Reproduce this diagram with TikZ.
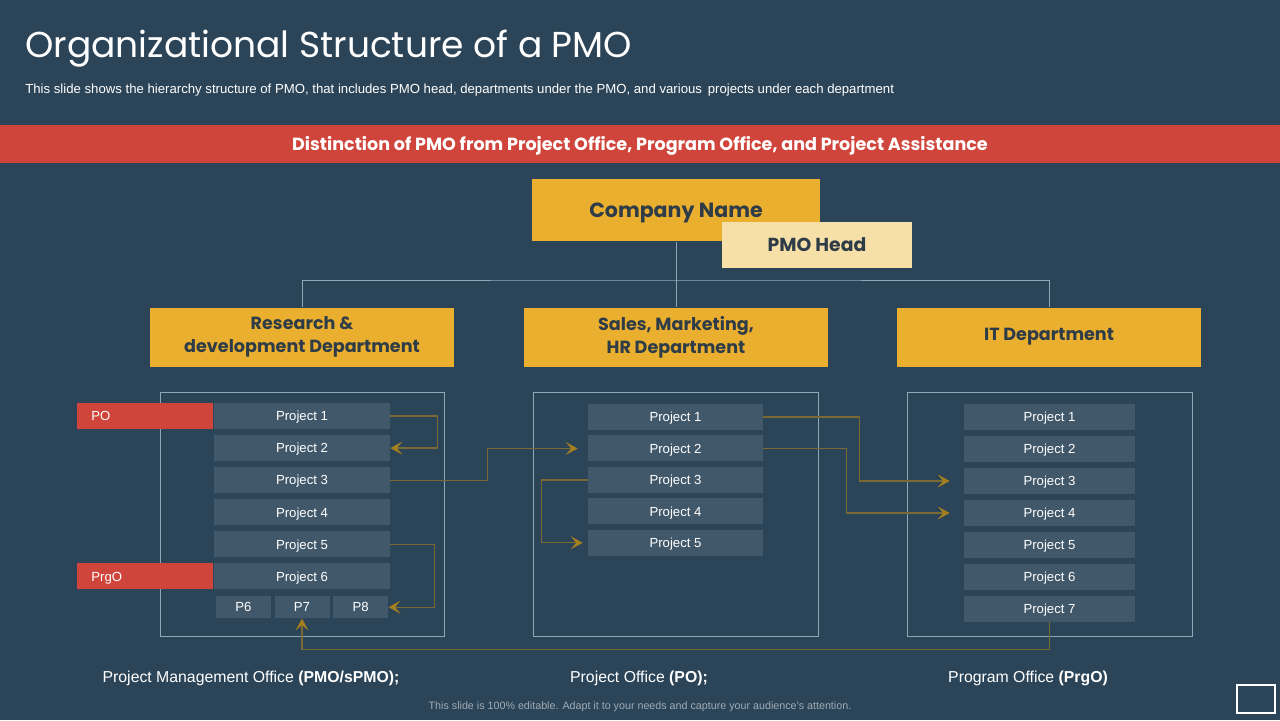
\documentclass[tikz,border=0pt]{standalone}
\usepackage{fontspec}
\setmainfont{Liberation Sans}
\newfontfamily\gothic{Poppins}
\usetikzlibrary{arrows.meta, positioning, calc}
\definecolor{slatebg}{RGB}{43,68,87}
\definecolor{bandred}{RGB}{208,69,59}
\definecolor{deptgold}{RGB}{235,175,47}
\definecolor{headcream}{RGB}{247,223,168}
\definecolor{projslate}{RGB}{65,88,106}
\definecolor{linegray}{RGB}{143,168,184}
\definecolor{flowolive}{RGB}{122,106,52}
\definecolor{tipgold}{RGB}{165,128,32}
\definecolor{inkdark}{RGB}{46,60,72}
\definecolor{footgray}{RGB}{160,172,182}

\begin{document}
\begin{tikzpicture}[x=0.02cm, y=-0.02cm,
    dept/.style={rectangle, fill=deptgold, minimum width=61mm, minimum height=11.8mm, inner sep=0, align=center, text=inkdark, font=\gothic\bfseries\fontsize{10}{13}\selectfont},
    company/.style={rectangle, fill=deptgold, minimum width=57.6mm, minimum height=12.6mm, inner sep=0, text height=8.4pt, text depth=0pt, text=inkdark, font=\gothic\bfseries\fontsize{11.7}{14}\selectfont},
    head/.style={rectangle, fill=headcream, minimum width=38mm, minimum height=9.2mm, inner sep=0, text height=7.6pt, text depth=0pt, text=inkdark, font=\gothic\bfseries\fontsize{10.7}{13}\selectfont},
    project/.style={rectangle, fill=projslate, minimum width=35.2mm, minimum height=5.2mm, inner sep=0, text height=5.4pt, text depth=0pt, text=white, font=\fontsize{7.5}{9}\selectfont},
    small/.style={project, minimum width=11mm, minimum height=4.4mm},
    office/.style={rectangle, fill=bandred, text width=21.6mm, inner xsep=2.8mm, inner ysep=0, minimum height=5.2mm, text height=5.4pt, text depth=0pt, align=left, text=white, font=\fontsize{7.5}{9}\selectfont},
    panel/.style={rectangle, draw=linegray, line width=0.55pt, minimum width=57mm, minimum height=48.8mm},
    tree/.style={draw=linegray, line width=0.55pt},
    flow/.style={-{Stealth[length=2.4mm, width=2.6mm, inset=1.1mm, color=tipgold]}, draw=flowolive, line width=0.75pt},
    caption/.style={text=white, font=\fontsize{9}{11}\selectfont}
]
\fill[slatebg] (0,0) rectangle (1280,720);
\useasboundingbox (0,0) rectangle (1280,720);

% header
\node[anchor=west, inner sep=0, text=white, font=\gothic\fontsize{20.5}{24}\selectfont] (title) at (25,49) {Organizational Structure of a PMO};
\node[anchor=west, inner sep=0, text=white, font=\fontsize{7.5}{9}\selectfont] (subtitle) at (25,90) {This slide shows the hierarchy structure of PMO, that includes PMO head, departments under the PMO, and various\, projects under each department};
\node[rectangle, fill=bandred, minimum width=256mm, minimum height=7.6mm, inner sep=0, text height=7pt, text depth=0pt, text=white, font=\gothic\bfseries\fontsize{10}{12}\selectfont] (band) at (640,144) {Distinction of PMO from Project Office, Program Office, and Project Assistance};

% hierarchy
\node[company] (company) at (676,210) {Company Name};
\node[head] (head) at (817,245) {PMO Head};
\node[dept] (rnd) at (302,337) {Research \&\\development Department};
\node[dept] (sales) at (676,337) {Sales, Marketing,\\HR Department};
\node[dept] (itdept) at (1049,337) {IT Department};
\coordinate (bus) at (676,280);
\draw[tree] (company.south) -- (sales.north);
\draw[tree] (rnd.north) |- (bus) -| (itdept.north);

% panels
\node[panel] (rndpanel) at (302.5,514) {};
\node[panel] (salespanel) at (676,514) {};
\node[panel] (itpanel) at (1049.5,514) {};

% research projects
\node[project] (rp1) at (302,416) {Project 1};
\foreach \i/\j in {2/1,3/2,4/3,5/4,6/5}
  \node[project, below=1.08mm of rp\j] (rp\i) {Project \i};
\node[small, below=1.2mm of rp6] (p7) {P7};
\node[small, left=0.6mm of p7] (p6) {P6};
\node[small, right=0.6mm of p7] (p8) {P8};
\node[office, left=0pt of rp1] (po) {PO};
\node[office, left=0pt of rp6] (prgo) {PrgO};

% sales projects
\node[project, minimum width=35mm] (mp1) at (675.5,417) {Project 1};
\foreach \i/\j in {2/1,3/2,4/3,5/4}
  \node[project, minimum width=35mm, below=0.95mm of mp\j] (mp\i) {Project \i};

% it projects
\node[project, minimum width=34.2mm] (itp1) at (1049.5,417) {Project 1};
\foreach \i/\j in {2/1,3/2,4/3,5/4,6/5,7/6}
  \node[project, minimum width=34.2mm, below=1.06mm of itp\j] (itp\i) {Project \i};

% flows
\draw[flow] (rp1.east) -- ++(9.4mm,0) |- (rp2.east);
\draw[flow, shorten >=2mm] (rp3.east) -- ++(19.4mm,0) |- (mp2.west);
\draw[flow] (rp5.east) -- ++(8.8mm,0) |- (p8.east);
\draw[flow, shorten >=1mm] (mp3.west) -- ++(-9.2mm,0) |- (mp5.west);
\draw[flow, shorten >=2.8mm] (mp1.east) -- ++(19.2mm,0) |- (itp3.west);
\draw[flow, shorten >=2.8mm] (mp2.east) -- ++(16.6mm,0) |- (itp4.west);
\draw[flow] (itp7.south) -- ++(0,-5.4mm) -| (p7.south);

% captions
\node[caption] (pmolabel) at (251,678) {Project Management Office \textbf{(PMO/sPMO);}};
\node[caption] (polabel) at (639,678) {Project Office \textbf{(PO);}};
\node[caption] (prgolabel) at (1028,678) {Program Office \textbf{(PrgO)}};
\node[text=footgray, font=\fontsize{6.1}{7}\selectfont] (footer) at (640,707) {This slide is 100\% editable. Adapt it to your needs and capture your audience's attention.};
\node[draw=white, line width=0.6pt, minimum width=7.6mm, minimum height=5.6mm, inner sep=0] (navbox) at (1256,699) {};
\end{tikzpicture}
\end{document}
